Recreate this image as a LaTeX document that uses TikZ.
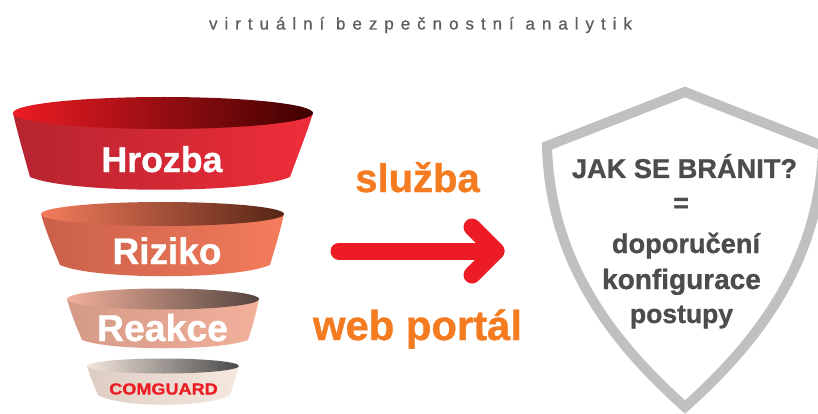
\documentclass[tikz,border=0pt]{standalone}
\usepackage{fontspec}
\setmainfont{Liberation Sans}
\newfontfamily\spacedfont[LetterSpace=41,FakeBold=0.8]{Liberation Sans}
\newfontfamily\heavyfont[FakeBold=0.9,UprightFont=* Bold]{Liberation Sans}
\definecolor{titlegrey}{HTML}{5E5E5E}
\definecolor{orangetxt}{HTML}{F47B20}
\definecolor{greytxt}{HTML}{4A4C4E}
\definecolor{arrowred}{HTML}{ED1C24}
\definecolor{shieldgrey}{HTML}{BFC1C1}
\definecolor{B1}{HTML}{B5252F}
\definecolor{B1m}{HTML}{D9262F}
\definecolor{B1r}{HTML}{F02D3A}
\definecolor{I1}{HTML}{ED1C24}
\definecolor{I1r}{HTML}{3F0000}
\definecolor{B2}{HTML}{C9604A}
\definecolor{B2r}{HTML}{F47C5C}
\definecolor{I2}{HTML}{F47C5C}
\definecolor{I2r}{HTML}{552515}
\definecolor{B3}{HTML}{D49A86}
\definecolor{B3r}{HTML}{F2B09B}
\definecolor{I3}{HTML}{F2B09B}
\definecolor{I3r}{HTML}{54453F}
\definecolor{B4}{HTML}{DECDC3}
\definecolor{B4r}{HTML}{F6E8DF}
\definecolor{I4}{HTML}{F3E5DB}
\definecolor{I4r}{HTML}{4A4A4A}
\tikzset{
  lbl/.style={anchor=base,inner sep=0pt,font=\heavyfont},
  white lbl/.style={lbl,text=white},
  orange lbl/.style={lbl,text=orangetxt},
  grey lbl/.style={lbl,text=greytxt},
  arrowline/.style={draw=arrowred,line width=17pt,line cap=round,line join=round},
}
\newcommand{\fsz}[1]{\fontsize{#1}{#1}\selectfont}
\begin{document}
\begin{tikzpicture}[x=1pt,y=-1pt]
\useasboundingbox (0,0) rectangle (818,414);
\fill[white] (0,0) rectangle (818,414);
% title
\node[anchor=base,inner sep=0pt,text=titlegrey] (title) at (420.5,29.5) {\spacedfont\fsz{17}virtuální bezpečnostní analytik};
% funnel 1
\shade[left color=B1,middle color=B1m,right color=B1r] (13,113) .. controls (18,135) and (24,155) .. (30,177) .. controls (70,194) and (250,194) .. (290,177) .. controls (298,155) and (306,135) .. (313,113) -- cycle;
\shade[left color=I1,right color=I1r] (163,113) ellipse [x radius=150pt,y radius=16pt];
\node[white lbl] (hrozba) at (162,172) {\fsz{35.7}Hrozba};
% funnel 2
\shade[left color=B2,right color=B2r] (41,214) .. controls (46,232) and (53,248) .. (60,265) .. controls (95,280) and (235,280) .. (270,265) .. controls (275,248) and (280,232) .. (284,214) -- cycle;
\shade[left color=I2,right color=I2r] (162.5,214) ellipse [x radius=121.5pt,y radius=12pt];
\node[white lbl] (riziko) at (167,264) {\fsz{37}Riziko};
% funnel 3
\shade[left color=B3,right color=B3r] (67,299) .. controls (71,314) and (77,328) .. (82,340) .. controls (110,351) and (220,351) .. (248,340) .. controls (252,328) and (256,314) .. (259,299) -- cycle;
\shade[left color=I3,right color=I3r] (163,299) ellipse [x radius=96pt,y radius=10.5pt];
\node[white lbl] (reakce) at (162.5,341) {\fsz{37.4}Reakce};
% funnel 4
\shade[left color=B4,right color=B4r] (87,366) .. controls (90,376) and (94,386) .. (98,395) .. controls (120,408) and (208,408) .. (230,395) .. controls (233,386) and (236,376) .. (239,366) -- cycle;
\shade[left color=I4,right color=I4r] (163,366) ellipse [x radius=76pt,y radius=7.5pt];
\node[lbl,text=arrowred,xscale=1.13] (comguard) at (163.5,394.5) {\fsz{16}COMGUARD};
% middle
\node[orange lbl] (sluzba) at (417.5,192) {\fsz{40}služba};
\node[orange lbl] (webportal) at (417.5,340) {\fsz{41.8}web portál};
\coordinate (arrowstart) at (339,251);
\coordinate (arrowtip) at (496,251);
\coordinate (headtop) at (472,227);
\coordinate (headbottom) at (472,275);
\draw[arrowline] (arrowstart) -- (arrowtip);
\draw[arrowline] (headtop) -- (arrowtip) -- (headbottom);
% shield
\draw[draw=shieldgrey,line width=10pt,line join=miter,fill=white]
  (685,92) -- (547,146) .. controls (550,260) and (610,340) .. (685,407)
  .. controls (760,340) and (820,260) .. (823,146) -- cycle;
\node[grey lbl] (jak) at (684.5,178) {\fsz{27.2}JAK SE BRÁNIT?};
\node[grey lbl] (eq) at (681,212) {\fsz{27}=};
\node[grey lbl] (dop) at (686,253) {\fsz{27.2}doporučení};
\node[grey lbl] (konf) at (681.5,289) {\fsz{28}konfigurace};
\node[grey lbl] (post) at (681.5,323) {\fsz{26.5}postupy};
\end{tikzpicture}
\end{document}
